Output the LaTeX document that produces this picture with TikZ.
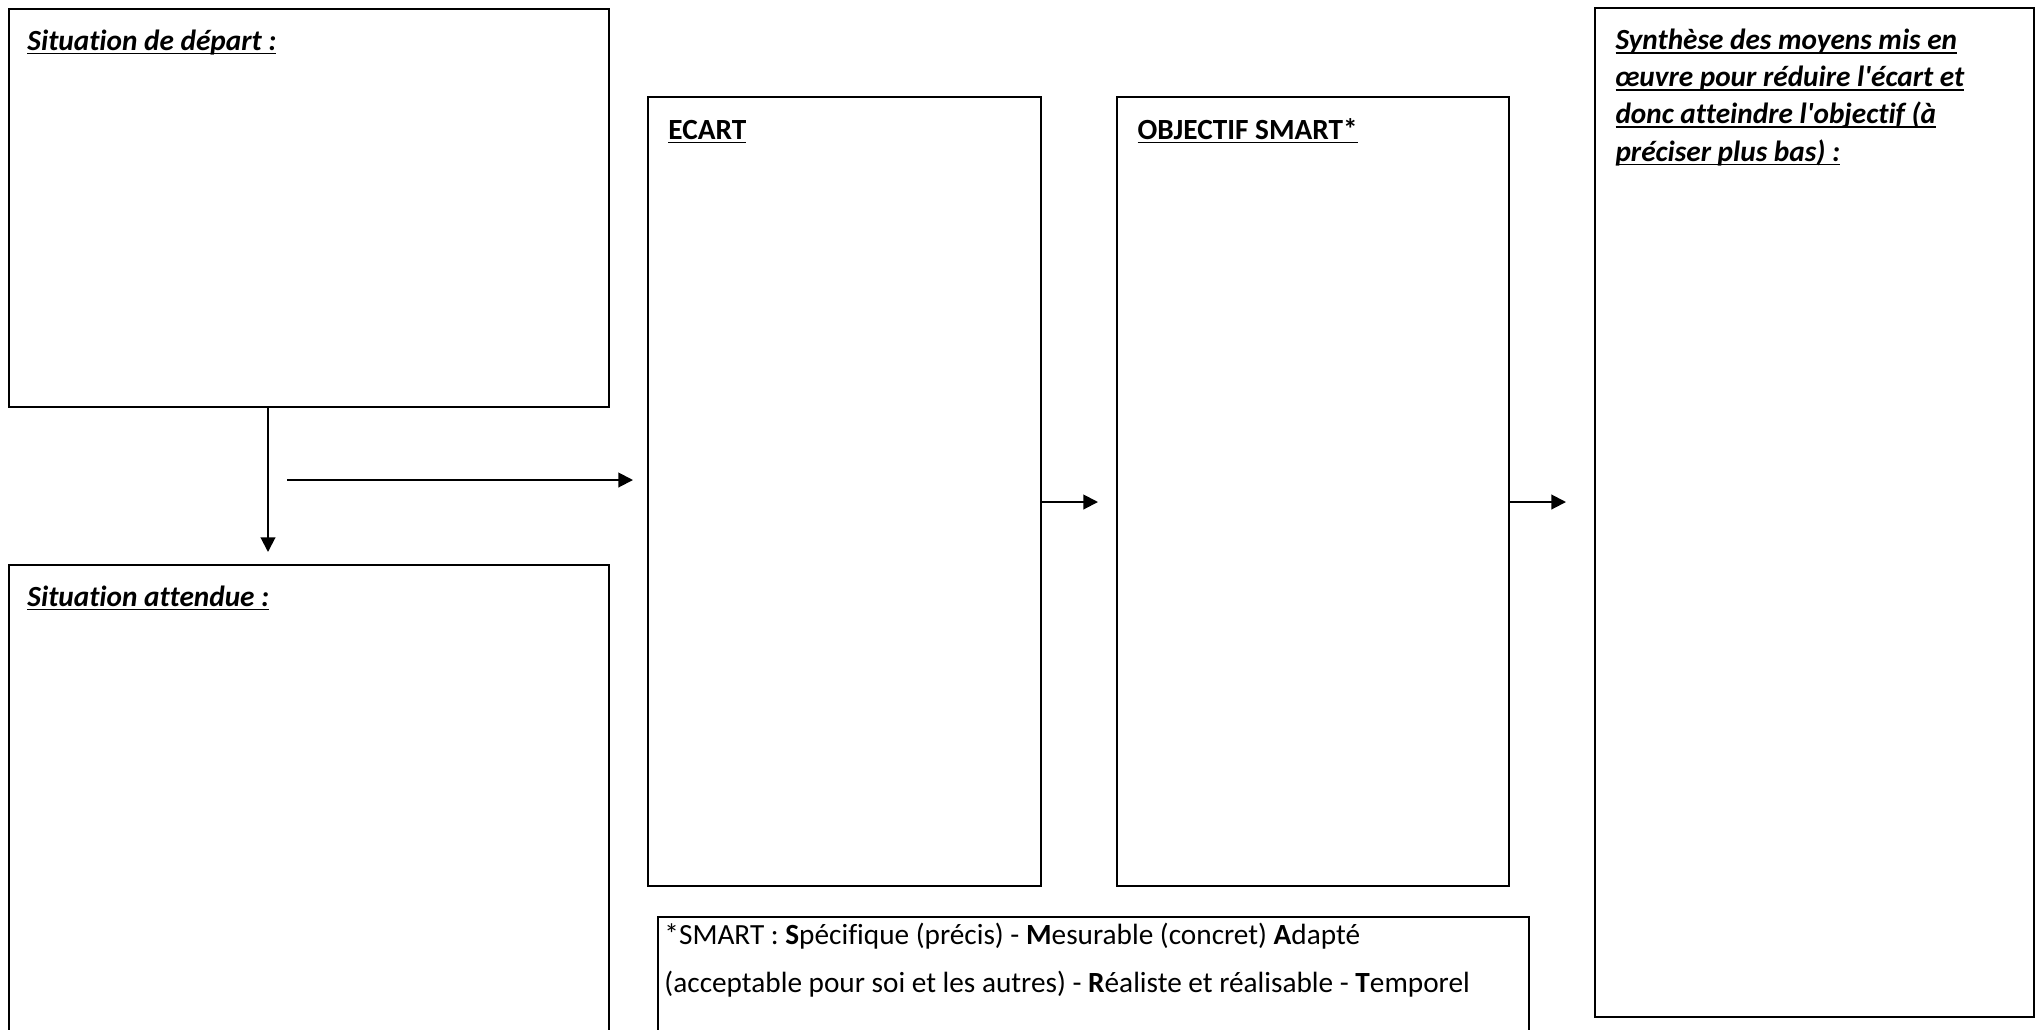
\documentclass[tikz,border=0pt]{standalone}
\usepackage{fontspec}
\setmainfont{Carlito}[Ligatures={TeXOff,NoCommon}]
\usetikzlibrary{arrows.meta}

\newcommand\souligne[1]{\setbox0\hbox{#1}\rlap{\rule[-1.7pt]{\wd0}{0.65pt}}\box0}

\begin{document}
\begin{tikzpicture}[x=0.41pt, y=-0.41pt,
      cadre/.style={rectangle, draw=black, line width=0.8pt, anchor=north west, inner sep=0pt},
      titre/.style={anchor=base west, inner sep=0pt, align=left,
        font=\fontsize{12pt}{15.2pt}\selectfont\bfseries\itshape},
      entete/.style={anchor=base west, inner sep=0pt,
        font=\fontsize{12pt}{15.2pt}\selectfont\bfseries},
      note/.style={anchor=base west, inner sep=0pt, align=left,
        font=\fontsize{12pt}{19.3pt}\selectfont},
      fleche/.style={-{Triangle[length=6pt,width=6pt]}, line width=0.8pt}]

    \useasboundingbox (0,0) rectangle (2035,1029);

    \node[cadre, minimum width=246pt, minimum height=163.2pt] (depart) at (8,8) {};
    \node[cadre, minimum width=246pt, minimum height=195pt] (attendue) at (8,564) {};
    \node[cadre, minimum width=161.1pt, minimum height=323.5pt] (ecart) at (647,96) {};
    \node[cadre, minimum width=160.7pt, minimum height=323.5pt] (objectif) at (1116,96) {};
    \node[cadre, minimum width=180pt, minimum height=413.7pt] (synthese) at (1594,7) {};
    \node[cadre, minimum width=357.1pt, minimum height=60pt] (smart) at (657,916) {};

    % texts (multi-line nodes are placed by their last baseline)
    \node[titre] (tdepart) at (27,50) {\souligne{Situation de départ :}};
    \node[titre] (tattendue) at (27,606) {\souligne{Situation attendue :}};
    \node[entete] (tecart) at (668,139) {\souligne{ECART}};
    \node[entete] (tobjectif) at (1137,139) {\souligne{OBJECTIF SMART*}};
    \node[titre] (tsynthese) at (1615,161) {\souligne{Synthèse des moyens mis en}\\
      \souligne{œuvre pour réduire l'écart et}\\
      \souligne{donc atteindre l'objectif (à}\\
      \souligne{préciser plus bas) :}};
    \node[note] (tsmart) at (664,992) {*SMART : \textbf{S}pécifique (précis) - \textbf{M}esurable (concret) \textbf{A}dapté\\
      (acceptable pour soi et les autres) - \textbf{R}éaliste et réalisable - \textbf{T}emporel};

    \coordinate (bas) at (268,552);
    \coordinate (g0) at (287,480);
    \coordinate (g1) at (633,480);
    \coordinate (m1) at (1098,502);
    \coordinate (m2) at (1566,502);

    \draw[fleche] (bas |- depart.south) -- (bas);
    \draw[fleche] (g0) -- (g1);
    \draw[fleche] (m1 -| ecart.east) -- (m1);
    \draw[fleche] (m2 -| objectif.east) -- (m2);

  \end{tikzpicture}
\end{document}
